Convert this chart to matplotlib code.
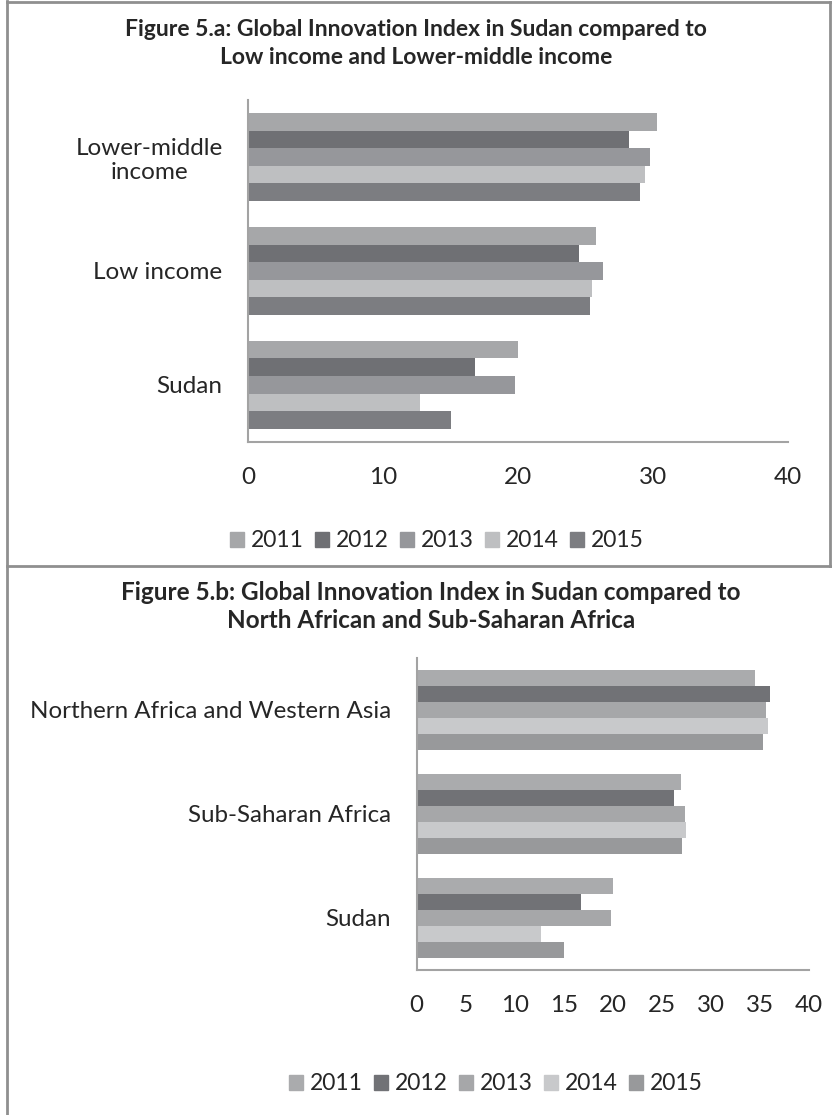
import matplotlib
matplotlib.use("Agg")
import matplotlib.pyplot as plt
from matplotlib.patches import Patch
from matplotlib.lines import Line2D
import numpy as np

plt.rcParams["font.family"] = ["Lato", "DejaVu Sans"]

years = ["2011", "2012", "2013", "2014", "2015"]

# Figure 5.a
cats_a = ["Sudan", "Low income", "Lower-middle\nincome"]
sudan = [20.0, 16.8, 19.8, 12.7, 15.0]
low_income = [25.8, 24.5, 26.3, 25.5, 25.3]
lower_middle = [30.3, 28.2, 29.8, 29.4, 29.0]
colors_a = ["#a6a7a9", "#6f7074", "#96979b", "#bebfc1", "#7c7d81"]

# Figure 5.b
cats_b = ["Sudan", "Sub-Saharan Africa", "Northern Africa and Western Asia"]
sub_saharan = [26.9, 26.2, 27.4, 27.5, 27.1]
north_africa = [34.5, 36.0, 35.6, 35.8, 35.3]
colors_b = ["#aaabad", "#717276", "#a6a7a9", "#c8c9cb", "#98999b"]

TXT = "#262626"
AXC = "#a3a3a3"
W, H = 832, 1115


def fx(px):
    return px / W


def fy(px):
    return 1 - px / H


def grouped(ax, cats, series, colors, ticks, fs, group=0.77):
    n = len(series[0])
    h = group / n
    y = np.arange(len(cats))
    for i in range(n):
        vals = [s[i] for s in series]
        ax.barh(y + (n - 1 - 2 * i) * h / 2, vals, height=h, color=colors[i], linewidth=0)
    ax.set_xlim(0, 40)
    ax.set_ylim(-0.5, len(cats) - 0.5)
    ax.set_xticks(ticks)
    ax.set_yticks(y)
    ax.set_yticklabels(cats, multialignment="center")
    ax.tick_params(length=0, labelsize=fs, colors=TXT)
    ax.tick_params(axis="x", pad=18)
    ax.tick_params(axis="y", pad=18.5)
    for s in ["top", "right"]:
        ax.spines[s].set_visible(False)
    for s in ["left", "bottom"]:
        ax.spines[s].set_color(AXC)
        ax.spines[s].set_linewidth(1.5)


fig = plt.figure(figsize=(W / 100, H / 100), dpi=100)

# panel frame
frame = dict(color="#8f8f8f", lw=2, transform=fig.transFigure)
fig.add_artist(Line2D([fx(7), fx(7)], [fy(1), fy(1115)], **frame))
fig.add_artist(Line2D([fx(7), fx(830)], [fy(2), fy(2)], **frame))
fig.add_artist(Line2D([fx(830), fx(830)], [fy(2), fy(566)], **frame))
fig.add_artist(Line2D([fx(7), fx(832)], [fy(566), fy(566)], **frame))

ax1 = fig.add_axes([fx(248.3), fy(441.7), fx(788 - 248.3), (441.7 - 100) / H])
grouped(ax1, cats_a, [sudan, low_income, lower_middle], colors_a, [0, 10, 20, 30, 40], 17.5)
fig.text(fx(416), fy(29), "Figure 5.a: Global Innovation Index in Sudan compared to",
         ha="center", va="center", fontsize=16.5, fontweight="bold", color=TXT)
fig.text(fx(416), fy(57), "Low income and Lower-middle income",
         ha="center", va="center", fontsize=16.5, fontweight="bold", color=TXT)
fig.legend([Patch(color=c) for c in colors_a], years, loc="center", ncol=5,
           bbox_to_anchor=(fx(437), fy(541)), frameon=False, fontsize=16.5,
           handlelength=0.6, handleheight=0.6, handletextpad=0.3, columnspacing=0.5,
           labelcolor=TXT)

ax2 = fig.add_axes([fx(416.7), fy(970), fx(809 - 416.7), (970 - 658) / H])
grouped(ax2, cats_b, [sudan, sub_saharan, north_africa], colors_b,
        [0, 5, 10, 15, 20, 25, 30, 35, 40], 17.4, group=0.776)
fig.text(fx(431), fy(593), "Figure 5.b: Global Innovation Index in Sudan compared to",
         ha="center", va="center", fontsize=17.5, fontweight="bold", color=TXT)
fig.text(fx(431), fy(621), "North African and Sub-Saharan Africa",
         ha="center", va="center", fontsize=17.5, fontweight="bold", color=TXT)
fig.legend([Patch(color=c) for c in colors_b], years, loc="center", ncol=5,
           bbox_to_anchor=(fx(496), fy(1084)), frameon=False, fontsize=16.5,
           handlelength=0.6, handleheight=0.6, handletextpad=0.3, columnspacing=0.5,
           labelcolor=TXT)

fig.savefig("out.png", dpi=100, facecolor="white")
